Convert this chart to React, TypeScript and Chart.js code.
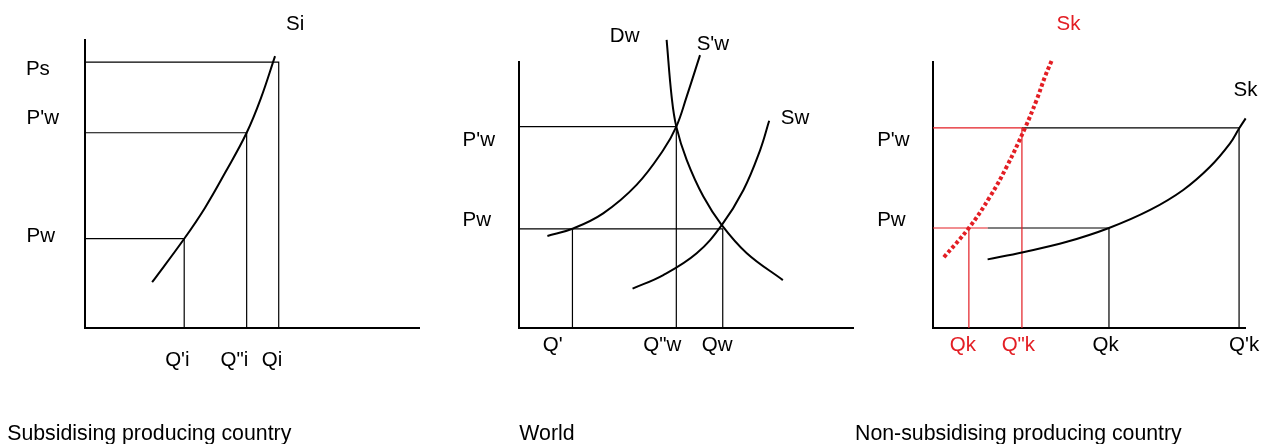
import React, { useEffect, useRef } from "react";
import { Chart, registerables } from "chart.js";

Chart.register(...registerables);

const FONT = '"Liberation Sans", Arial, Helvetica, sans-serif';
const RED = "#e31e24";
const BLACK = "#000000";
const W = 1270;
const H = 444;

// ---------- Panel 1: Subsidising producing country ----------
const siX = [2.01, 2.97, 3.59, 4.19, 4.84, 5.27, 5.69];
const siY = [1.59, 3.1, 4.17, 5.38, 6.78, 7.99, 9.44];
const p1Prices = [9.23, 6.78, 3.1]; // Ps, P'w, Pw
const p1Quantities = [5.8, 4.84, 2.97]; // Qi, Q"i, Q'i
const p1Texts = ["Ps", "P'w", "Pw", "Si", "Q'i", 'Q"i', "Qi"];
const p1TextX = [-1.77, -1.75, -1.75, 6.02, 2.4, 4.06, 5.29];
const p1TextY = [8.8, 7.08, 2.99, 10.35, -1.32, -1.32, -1.32];
const p1Title = "Subsidising producing country";
const p1TitleAt = [-2.33, -3.89];

// ---------- Panel 2: World ----------
const dwX = [4.42, 4.57, 4.71, 5.02, 5.52, 6.07, 6.82, 7.9];
const dwY = [10.83, 8.7, 7.57, 6.32, 4.94, 3.87, 2.81, 1.8];
const swPrimeX = [0.85, 1.6, 2.52, 3.52, 4.32, 4.71, 5.02, 5.42];
const swPrimeY = [3.46, 3.73, 4.31, 5.38, 6.69, 7.57, 8.7, 10.26];
const swX = [3.4, 4.32, 5.32, 6.07, 6.72, 7.22, 7.49];
const swY = [1.48, 1.99, 2.81, 3.87, 5.19, 6.69, 7.79];
const p2Prices = [7.57, 3.73]; // P'w, Pw
const p2Quantities = [4.71, 6.1]; // Q"w, Qw
const p2ImportQ = 1.6; // Q'
const p2Texts = ["Dw", "S'w", "Sw", "P'w", "Pw", "Q'", 'Q"w', "Qw"];
const p2TextX = [2.72, 5.32, 7.84, -1.69, -1.69, 0.71, 3.72, 5.47];
const p2TextY = [10.74, 10.45, 7.67, 6.84, 3.85, -0.86, -0.86, -0.86];
const p2Title = "World";
const p2TitleAt = [0.01, -4.21];

// ---------- Panel 3: Non-subsidising producing country ----------
const skRedX = [0.35, 1.15, 1.83, 2.36, 2.95, 3.32, 3.59, 3.8];
const skRedY = [2.66, 3.76, 4.94, 6.06, 7.52, 8.57, 9.45, 10.04];
const skX = [1.75, 2.89, 4.29, 5.64, 6.96, 8.02, 8.88, 9.52, 9.81, 10.02];
const skY = [2.58, 2.85, 3.24, 3.76, 4.44, 5.19, 6.06, 6.94, 7.5, 7.88];
const p3Prices = [7.52, 3.76]; // P'w, Pw
const p3RedQuantities = [2.85, 1.15]; // Q"k, Qk (red)
const p3Quantities = [9.81, 5.64]; // Q'k, Qk
const p3Texts = ["Sk", "Sk", "P'w", "Pw", "Qk", 'Q"k', "Qk", "Q'k"];
const p3TextRed = [true, false, false, false, true, true, false, false];
const p3TextX = [3.96, 9.63, -1.79, -1.79, 0.54, 2.2, 5.11, 9.49];
const p3TextY = [11.2, 8.73, 6.85, 3.85, -0.86, -0.86, -0.86, -0.86];
const p3Title = "Non-subsidising producing country";
const p3TitleAt = [-2.5, -4.21];

type Pt = { x: number; y: number };
type Label = { text: string; x: number; y: number; color: string; size: number };

const zip = (xs: number[], ys: number[]): Pt[] => xs.map((x, i) => ({ x, y: ys[i] }));
const corner = (q: number, p: number, from = 0): Pt[] => [
  { x: from, y: p },
  { x: q, y: p },
  { x: q, y: 0 },
];

const curve = (data: Pt[], color = BLACK, width = 2, dash: number[] = []) => ({
  data,
  borderColor: color,
  borderWidth: width,
  borderDash: dash,
  pointRadius: 0,
  tension: 0.4,
  fill: false,
  clip: false as any,
});

const straight = (data: Pt[], color = BLACK, width = 1.2) => ({
  data,
  borderColor: color,
  borderWidth: width,
  pointRadius: 0,
  tension: 0,
  fill: false,
  clip: false as any,
});

const labelPlugin = {
  id: "panelLabels",
  afterDraw(chart: any, _args: any, opts: any) {
    const { ctx } = chart;
    const xs = chart.scales.x;
    const ys = chart.scales.y;
    ctx.save();
    for (const l of opts.items as Label[]) {
      ctx.font = `${l.size}px ${FONT}`;
      ctx.fillStyle = l.color;
      ctx.textAlign = "left";
      ctx.textBaseline = "alphabetic";
      ctx.fillText(l.text, xs.getPixelForValue(l.x), ys.getPixelForValue(l.y));
    }
    ctx.restore();
  },
};

const LABEL_SIZE = 20.5;
const TITLE_SIZE = 21.3;

const makeLabels = (
  texts: string[],
  xs: number[],
  ys: number[],
  colors: string[],
  title: string,
  titleAt: number[]
): Label[] => [
  ...texts.map((t, i) => ({ text: t, x: xs[i], y: ys[i], color: colors[i], size: LABEL_SIZE })),
  { text: title, x: titleAt[0], y: titleAt[1], color: BLACK, size: TITLE_SIZE },
];

type PanelSpec = {
  area: { left: number; right: number; top: number; bottom: number };
  datasets: any[];
  labels: Label[];
};

const panels: PanelSpec[] = [
  {
    area: { left: 85, right: 419, top: 40, bottom: 328 },
    datasets: [
      curve(zip(siX, siY)),
      ...p1Prices.map((p, i) => straight(corner(p1Quantities[i], p))),
    ],
    labels: makeLabels(p1Texts, p1TextX, p1TextY, p1Texts.map(() => BLACK), p1Title, p1TitleAt),
  },
  {
    area: { left: 519, right: 853, top: 62, bottom: 328 },
    datasets: [
      curve(zip(dwX, dwY)),
      curve(zip(swPrimeX, swPrimeY)),
      curve(zip(swX, swY)),
      ...p2Prices.map((p, i) => straight(corner(p2Quantities[i], p))),
      straight([
        { x: p2ImportQ, y: p2Prices[1] },
        { x: p2ImportQ, y: 0 },
      ]),
    ],
    labels: makeLabels(p2Texts, p2TextX, p2TextY, p2Texts.map(() => BLACK), p2Title, p2TitleAt),
  },
  {
    area: { left: 933, right: 1245, top: 62, bottom: 328 },
    datasets: [
      curve(zip(skRedX, skRedY), RED, 4, [3.5, 2.5]),
      curve(zip(skX, skY)),
      // red parts of the price lines and red quantity drops
      straight([
        { x: 0, y: p3Prices[0] },
        { x: p3RedQuantities[0], y: p3Prices[0] },
        { x: p3RedQuantities[0], y: 0 },
      ], RED),
      straight([
        { x: 0, y: p3Prices[1] },
        { x: skX[0], y: p3Prices[1] },
      ], RED),
      straight([
        { x: p3RedQuantities[1], y: p3Prices[1] },
        { x: p3RedQuantities[1], y: 0 },
      ], RED),
      // black parts
      straight(corner(p3Quantities[0], p3Prices[0], p3RedQuantities[0])),
      straight(corner(p3Quantities[1], p3Prices[1], skX[0])),
    ],
    labels: makeLabels(
      p3Texts,
      p3TextX,
      p3TextY,
      p3TextRed.map((r) => (r ? RED : BLACK)),
      p3Title,
      p3TitleAt
    ),
  },
];

function Panel({ spec }: { spec: PanelSpec }) {
  const ref = useRef<HTMLCanvasElement | null>(null);
  useEffect(() => {
    if (!ref.current) return;
    const a = spec.area;
    const axisBorder = { display: true, color: BLACK, width: 2 };
    const chart = new Chart(ref.current, {
      type: "line",
      data: { datasets: spec.datasets },
      plugins: [labelPlugin as any],
      options: {
        animation: false,
        responsive: false,
        devicePixelRatio: 1,
        events: [],
        layout: {
          padding: { left: a.left, right: W - a.right, top: a.top, bottom: H - a.bottom },
        },
        scales: {
          x: {
            type: "linear",
            min: 0,
            max: 10,
            grid: { display: false, drawTicks: false },
            border: axisBorder,
            ticks: { display: false },
          },
          y: {
            type: "linear",
            min: 0,
            max: 10,
            grid: { display: false, drawTicks: false },
            border: axisBorder,
            ticks: { display: false },
          },
        },
        plugins: {
          legend: { display: false },
          tooltip: { enabled: false },
          panelLabels: { items: spec.labels },
        } as any,
      },
    });
    return () => chart.destroy();
  }, [spec]);
  return (
    <canvas
      ref={ref}
      width={W}
      height={H}
      style={{ position: "absolute", left: 0, top: 0, width: W, height: H }}
    />
  );
}

export default function App() {
  return (
    <div
      style={{
        position: "fixed",
        left: 0,
        top: 0,
        width: W,
        height: H,
        background: "#ffffff",
        overflow: "hidden",
      }}
    >
      {panels.map((p, i) => (
        <Panel key={i} spec={p} />
      ))}
    </div>
  );
}
